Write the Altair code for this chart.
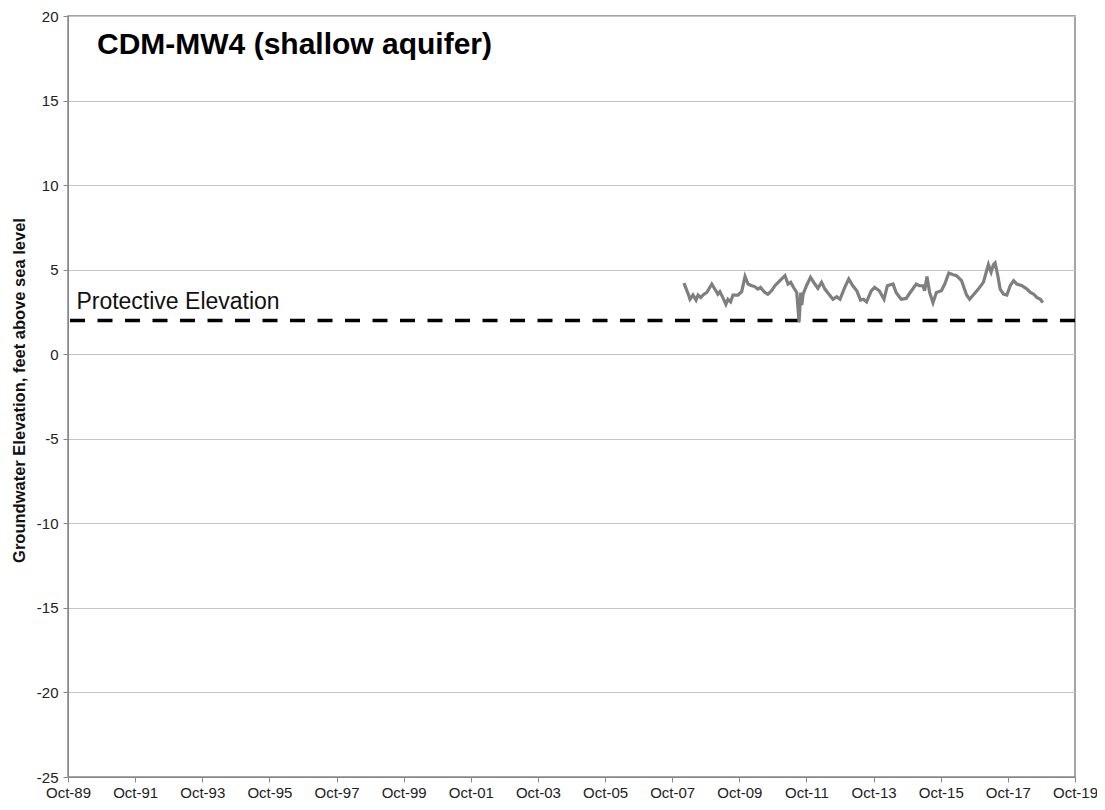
import altair as alt
import pandas as pd

# Observation dates as decimal years, and groundwater elevations (ft above sea level)
years = [2008.10, 2008.23, 2008.28, 2008.37, 2008.46, 2008.52, 2008.60, 2008.67, 2008.78, 2008.93,
         2009.05, 2009.11, 2009.17, 2009.26, 2009.35, 2009.41, 2009.49, 2009.56, 2009.71, 2009.82,
         2009.92, 2010.01, 2010.12, 2010.21, 2010.30, 2010.38, 2010.51, 2010.60, 2010.71, 2010.81,
         2010.96, 2011.11, 2011.20, 2011.28, 2011.38, 2011.46, 2011.53, 2011.58, 2011.61, 2011.65,
         2011.75, 2011.87, 2012.00, 2012.09, 2012.20, 2012.30, 2012.42, 2012.54, 2012.65, 2012.75,
         2012.89, 2013.01, 2013.13, 2013.25, 2013.36, 2013.45, 2013.54, 2013.68, 2013.78, 2013.92,
         2014.06, 2014.16, 2014.33, 2014.42, 2014.57, 2014.72, 2014.84, 2015.02, 2015.11, 2015.22,
         2015.27, 2015.34, 2015.42, 2015.52, 2015.62, 2015.77, 2015.87, 2015.99, 2016.12, 2016.22,
         2016.37, 2016.52, 2016.61, 2016.72, 2016.87, 2017.02, 2017.12, 2017.17, 2017.25, 2017.32,
         2017.37, 2017.45, 2017.52, 2017.62, 2017.72, 2017.82, 2017.92, 2018.02, 2018.17, 2018.32,
         2018.42, 2018.52, 2018.62, 2018.72, 2018.79]
elevations = [4.20, 3.55, 3.25, 3.50, 3.20, 3.50, 3.35, 3.50, 3.65, 4.15,
              3.75, 3.55, 3.70, 3.35, 2.95, 3.25, 3.10, 3.50, 3.50, 3.70,
              4.60, 4.15, 4.05, 4.00, 3.85, 3.95, 3.65, 3.55, 3.75, 4.05,
              4.35, 4.65, 4.15, 4.25, 3.90, 3.65, 1.90, 3.65, 2.90, 3.55,
              4.05, 4.55, 4.15, 3.90, 4.25, 3.85, 3.55, 3.25, 3.40, 3.25,
              3.95, 4.45, 4.05, 3.75, 3.20, 3.25, 3.10, 3.75, 3.95, 3.75,
              3.25, 4.05, 4.15, 3.65, 3.25, 3.30, 3.65, 4.15, 4.05, 4.05,
              3.75, 4.60, 3.65, 3.05, 3.65, 3.75, 4.15, 4.80, 4.70, 4.65,
              4.35, 3.50, 3.25, 3.50, 3.85, 4.25, 4.95, 5.30, 4.85, 5.30,
              5.40, 4.65, 3.85, 3.55, 3.50, 4.05, 4.35, 4.15, 4.05, 3.85,
              3.65, 3.55, 3.35, 3.25, 3.05]

protective_elevation = 2.0
x_ticks = [1989.75 + 2 * k for k in range(16)]   # Oct-89 ... Oct-19
y_ticks = [-25, -20, -15, -10, -5, 0, 5, 10, 15, 20]
title_text = "CDM-MW4 (shallow aquifer)"
protective_label = "Protective Elevation"
y_title = "Groundwater Elevation, feet above sea level"

FONT = "Liberation Sans"
df = pd.DataFrame({"year": years, "elev": elevations})

x_scale = alt.Scale(domain=[1989.75, 2019.75], nice=False, zero=False)
y_scale = alt.Scale(domain=[-25, 20], nice=False, zero=False)

x_axis = alt.Axis(values=x_ticks, title=None, grid=False,
                  labelExpr="'Oct-' + substring(toString(100 + floor(datum.value) % 100), 1, 3)",
                  labelFont=FONT, labelFontSize=15, labelColor="#222222",
                  tickSize=5, tickColor="#888888", domainColor="#888888",
                  labelPadding=3, labelFlush=False, labelOverlap=False)
y_axis = alt.Axis(values=y_ticks, title=y_title, grid=True, gridColor="#c4c4c4",
                  labelExpr="toString(datum.value)",
                  labelFont=FONT, labelFontSize=15, labelColor="#222222",
                  tickSize=5, tickColor="#888888", domainColor="#888888",
                  labelPadding=5, titleFont=FONT, titleFontSize=16.5, titleFontWeight="bold",
                  titleColor="#111111", titleX=-49, titleY=374, titleAngle=-90,
                  titleAlign="center", titleBaseline="middle")

line = alt.Chart(df).mark_line(color="#7f7f7f", strokeWidth=3.2).encode(
    x=alt.X("year:Q", scale=x_scale, axis=x_axis),
    y=alt.Y("elev:Q", scale=y_scale, axis=y_axis),
)

rule = alt.Chart(pd.DataFrame({"p": [protective_elevation]})).mark_rule(
    color="#000000", strokeWidth=3.5, strokeDash=[15, 12.5]
).encode(y=alt.Y("p:Q", scale=y_scale))

prot_text = alt.Chart(pd.DataFrame({"x": [1990.0], "y": [2.67], "t": [protective_label]})).mark_text(
    align="left", baseline="alphabetic", font=FONT, fontSize=23, color="#111111"
).encode(x=alt.X("x:Q", scale=x_scale), y=alt.Y("y:Q", scale=y_scale), text="t:N")

title = alt.Chart(pd.DataFrame({"t": [title_text]})).mark_text(
    align="left", baseline="alphabetic", font=FONT, fontSize=30, fontWeight="bold", color="#000000"
).encode(x=alt.value(29), y=alt.value(38), text="t:N")

chart = alt.layer(rule, line, prot_text, title).properties(
    width=1007, height=761,
    autosize=alt.AutoSizeParams(type="none"),
    padding={"left": 60, "top": 8, "right": 22, "bottom": 23},
).configure_view(stroke="#888888", strokeWidth=1.5)

chart.save("out.html", embed_options={"renderer": "svg", "actions": False})
